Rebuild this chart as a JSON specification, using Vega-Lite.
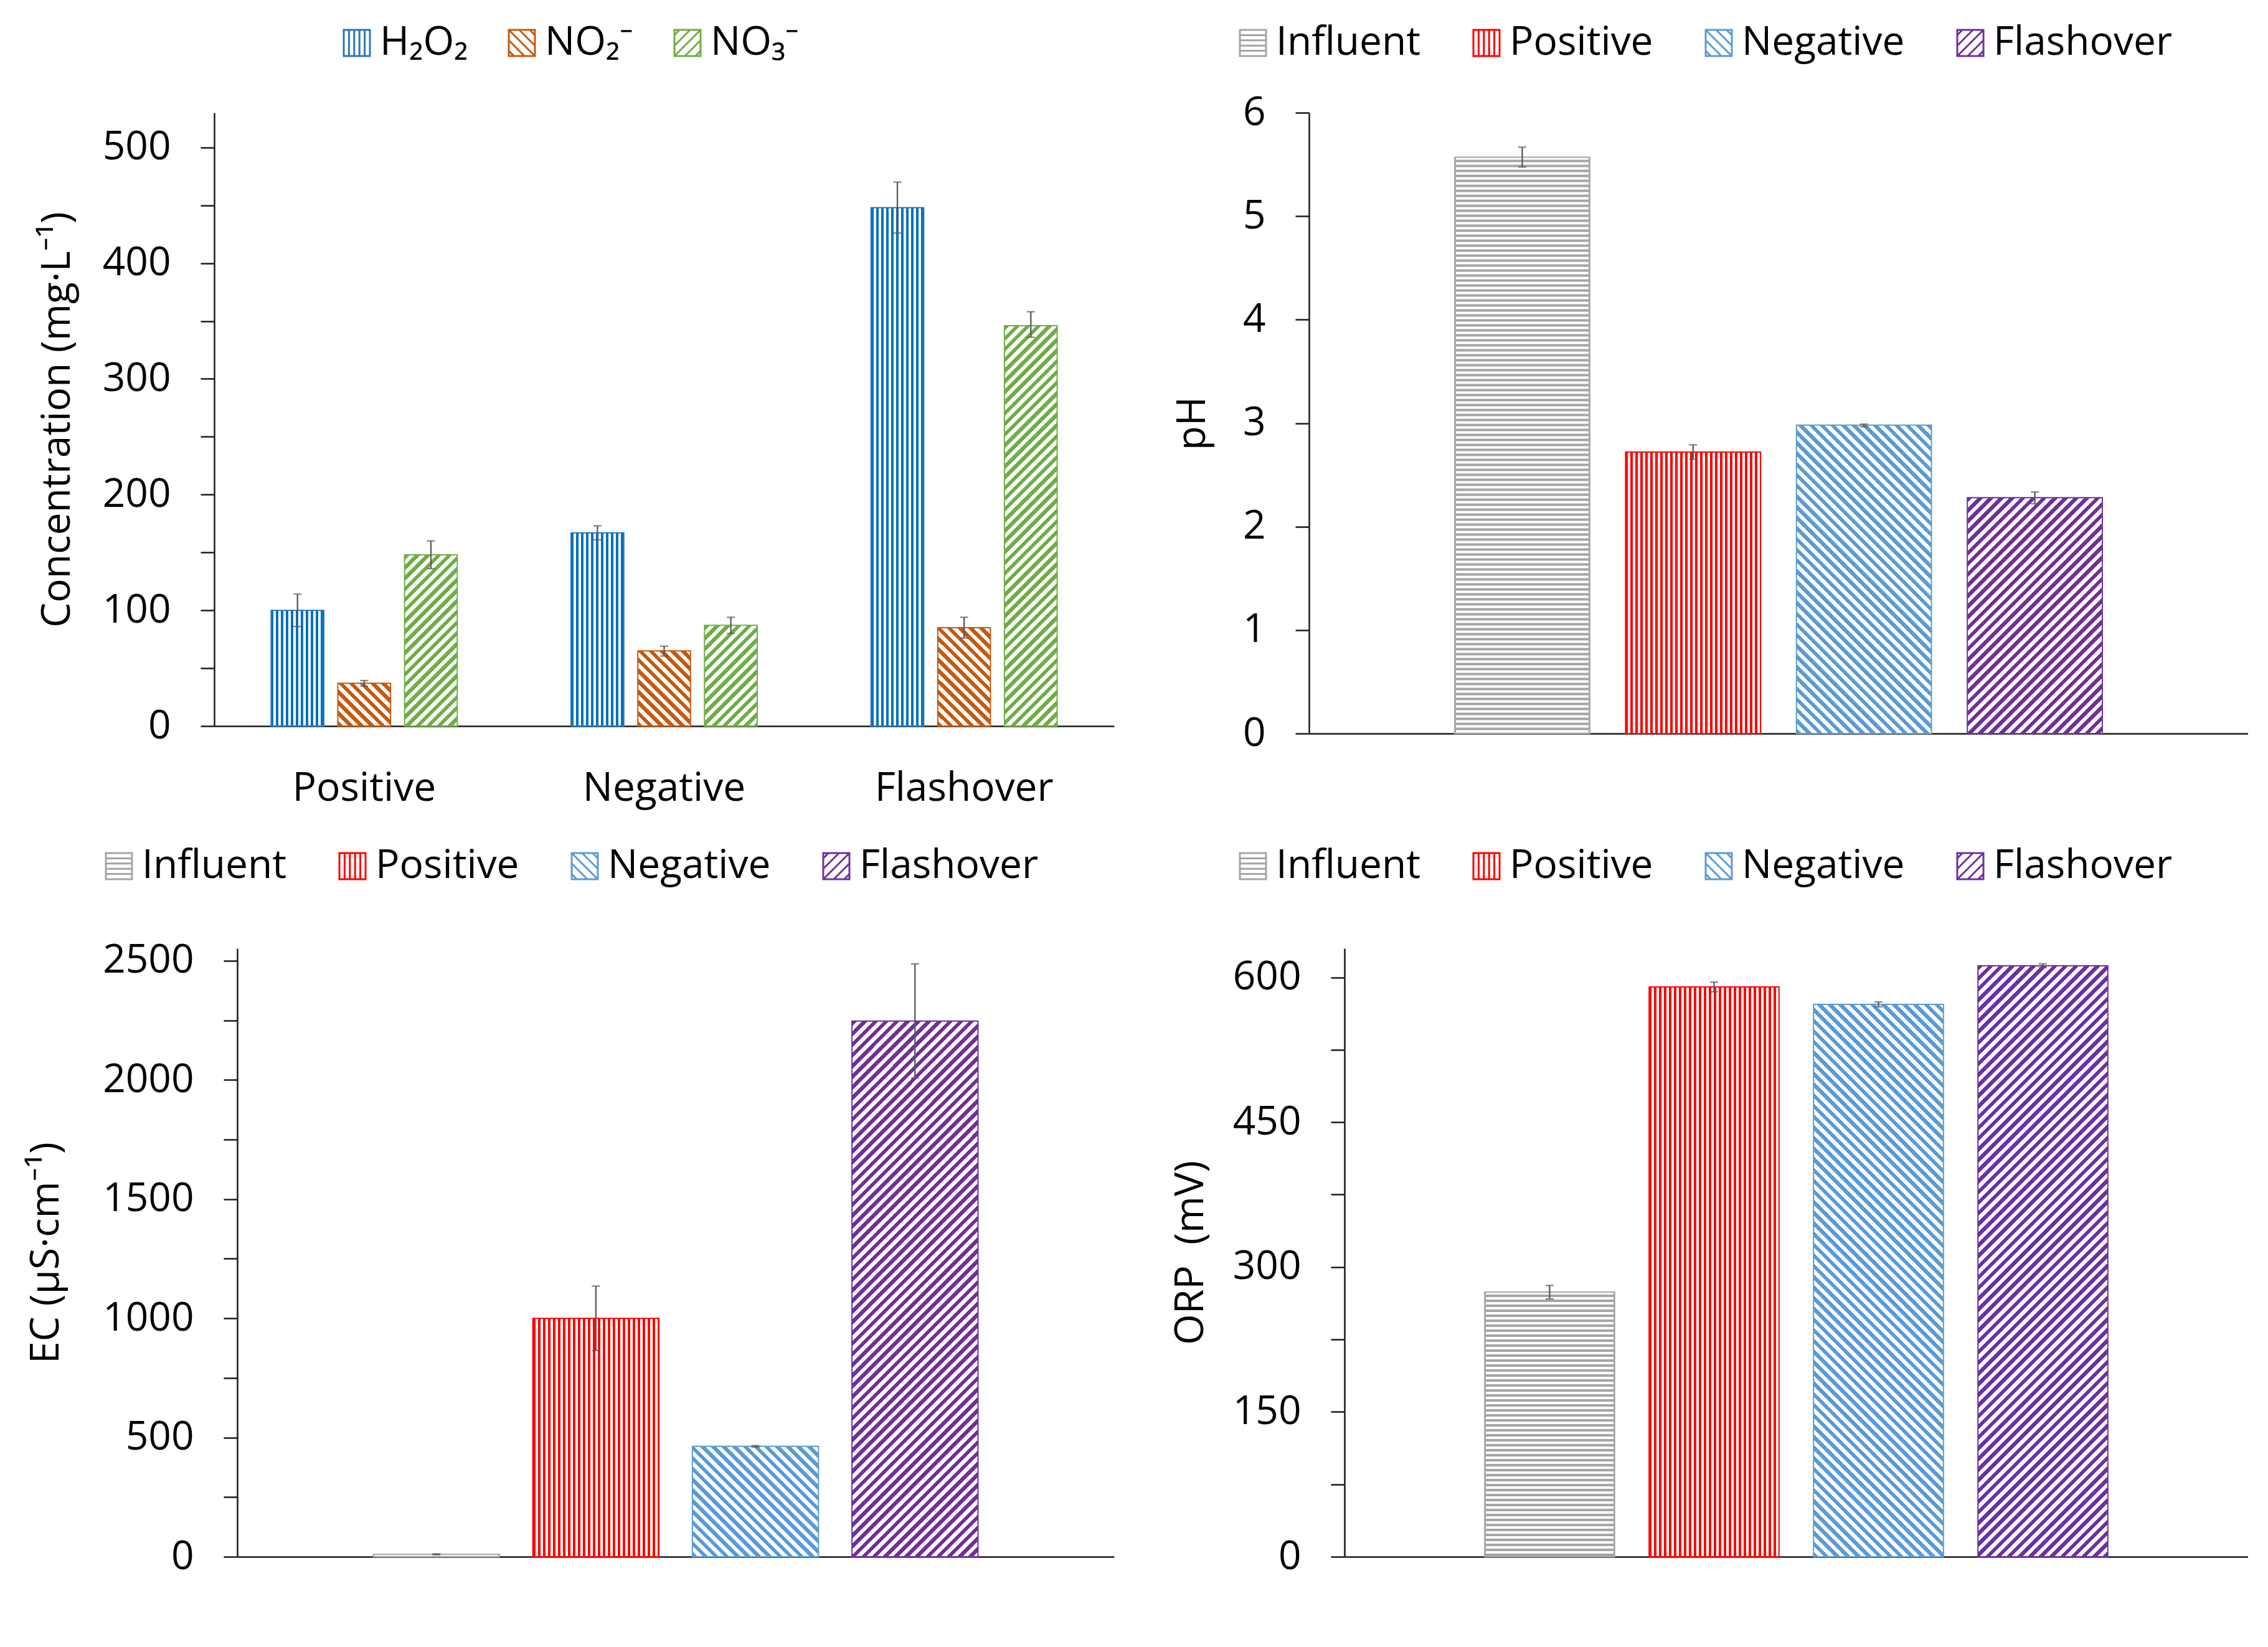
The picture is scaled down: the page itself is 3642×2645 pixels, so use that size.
{
"$schema": "https://vega.github.io/schema/vega-lite/v6.json",
"background": "white",
"padding": {"left": 42, "top": 37, "right": 0, "bottom": 0},
"params": [{"name": "S", "value": [
{"offset":0,"color":"transparent"},
{"offset":0.00714,"color":"transparent"},{"offset":0.00714,"color":"#fff"},
{"offset":0.01429,"color":"#fff"},{"offset":0.01429,"color":"transparent"},
{"offset":0.02143,"color":"transparent"},{"offset":0.02143,"color":"#fff"},
{"offset":0.02857,"color":"#fff"},{"offset":0.02857,"color":"transparent"},
{"offset":0.03571,"color":"transparent"},{"offset":0.03571,"color":"#fff"},
{"offset":0.04286,"color":"#fff"},{"offset":0.04286,"color":"transparent"},
{"offset":0.05,"color":"transparent"},{"offset":0.05,"color":"#fff"},
{"offset":0.05714,"color":"#fff"},{"offset":0.05714,"color":"transparent"},
{"offset":0.06429,"color":"transparent"},{"offset":0.06429,"color":"#fff"},
{"offset":0.07143,"color":"#fff"},{"offset":0.07143,"color":"transparent"},
{"offset":0.07857,"color":"transparent"},{"offset":0.07857,"color":"#fff"},
{"offset":0.08571,"color":"#fff"},{"offset":0.08571,"color":"transparent"},
{"offset":0.09286,"color":"transparent"},{"offset":0.09286,"color":"#fff"},
{"offset":0.1,"color":"#fff"},{"offset":0.1,"color":"transparent"},
{"offset":0.10714,"color":"transparent"},{"offset":0.10714,"color":"#fff"},
{"offset":0.11429,"color":"#fff"},{"offset":0.11429,"color":"transparent"},
{"offset":0.12143,"color":"transparent"},{"offset":0.12143,"color":"#fff"},
{"offset":0.12857,"color":"#fff"},{"offset":0.12857,"color":"transparent"},
{"offset":0.13571,"color":"transparent"},{"offset":0.13571,"color":"#fff"},
{"offset":0.14286,"color":"#fff"},{"offset":0.14286,"color":"transparent"},
{"offset":0.15,"color":"transparent"},{"offset":0.15,"color":"#fff"},
{"offset":0.15714,"color":"#fff"},{"offset":0.15714,"color":"transparent"},
{"offset":0.16429,"color":"transparent"},{"offset":0.16429,"color":"#fff"},
{"offset":0.17143,"color":"#fff"},{"offset":0.17143,"color":"transparent"},
{"offset":0.17857,"color":"transparent"},{"offset":0.17857,"color":"#fff"},
{"offset":0.18571,"color":"#fff"},{"offset":0.18571,"color":"transparent"},
{"offset":0.19286,"color":"transparent"},{"offset":0.19286,"color":"#fff"},
{"offset":0.2,"color":"#fff"},{"offset":0.2,"color":"transparent"},
{"offset":0.20714,"color":"transparent"},{"offset":0.20714,"color":"#fff"},
{"offset":0.21429,"color":"#fff"},{"offset":0.21429,"color":"transparent"},
{"offset":0.22143,"color":"transparent"},{"offset":0.22143,"color":"#fff"},
{"offset":0.22857,"color":"#fff"},{"offset":0.22857,"color":"transparent"},
{"offset":0.23571,"color":"transparent"},{"offset":0.23571,"color":"#fff"},
{"offset":0.24286,"color":"#fff"},{"offset":0.24286,"color":"transparent"},
{"offset":0.25,"color":"transparent"},{"offset":0.25,"color":"#fff"},
{"offset":0.25714,"color":"#fff"},{"offset":0.25714,"color":"transparent"},
{"offset":0.26429,"color":"transparent"},{"offset":0.26429,"color":"#fff"},
{"offset":0.27143,"color":"#fff"},{"offset":0.27143,"color":"transparent"},
{"offset":0.27857,"color":"transparent"},{"offset":0.27857,"color":"#fff"},
{"offset":0.28571,"color":"#fff"},{"offset":0.28571,"color":"transparent"},
{"offset":0.29286,"color":"transparent"},{"offset":0.29286,"color":"#fff"},
{"offset":0.3,"color":"#fff"},{"offset":0.3,"color":"transparent"},
{"offset":0.30714,"color":"transparent"},{"offset":0.30714,"color":"#fff"},
{"offset":0.31429,"color":"#fff"},{"offset":0.31429,"color":"transparent"},
{"offset":0.32143,"color":"transparent"},{"offset":0.32143,"color":"#fff"},
{"offset":0.32857,"color":"#fff"},{"offset":0.32857,"color":"transparent"},
{"offset":0.33571,"color":"transparent"},{"offset":0.33571,"color":"#fff"},
{"offset":0.34286,"color":"#fff"},{"offset":0.34286,"color":"transparent"},
{"offset":0.35,"color":"transparent"},{"offset":0.35,"color":"#fff"},
{"offset":0.35714,"color":"#fff"},{"offset":0.35714,"color":"transparent"},
{"offset":0.36429,"color":"transparent"},{"offset":0.36429,"color":"#fff"},
{"offset":0.37143,"color":"#fff"},{"offset":0.37143,"color":"transparent"},
{"offset":0.37857,"color":"transparent"},{"offset":0.37857,"color":"#fff"},
{"offset":0.38571,"color":"#fff"},{"offset":0.38571,"color":"transparent"},
{"offset":0.39286,"color":"transparent"},{"offset":0.39286,"color":"#fff"},
{"offset":0.4,"color":"#fff"},{"offset":0.4,"color":"transparent"},
{"offset":0.40714,"color":"transparent"},{"offset":0.40714,"color":"#fff"},
{"offset":0.41429,"color":"#fff"},{"offset":0.41429,"color":"transparent"},
{"offset":0.42143,"color":"transparent"},{"offset":0.42143,"color":"#fff"},
{"offset":0.42857,"color":"#fff"},{"offset":0.42857,"color":"transparent"},
{"offset":0.43571,"color":"transparent"},{"offset":0.43571,"color":"#fff"},
{"offset":0.44286,"color":"#fff"},{"offset":0.44286,"color":"transparent"},
{"offset":0.45,"color":"transparent"},{"offset":0.45,"color":"#fff"},
{"offset":0.45714,"color":"#fff"},{"offset":0.45714,"color":"transparent"},
{"offset":0.46429,"color":"transparent"},{"offset":0.46429,"color":"#fff"},
{"offset":0.47143,"color":"#fff"},{"offset":0.47143,"color":"transparent"},
{"offset":0.47857,"color":"transparent"},{"offset":0.47857,"color":"#fff"},
{"offset":0.48571,"color":"#fff"},{"offset":0.48571,"color":"transparent"},
{"offset":0.49286,"color":"transparent"},{"offset":0.49286,"color":"#fff"},
{"offset":0.5,"color":"#fff"},{"offset":0.5,"color":"transparent"},
{"offset":0.50714,"color":"transparent"},{"offset":0.50714,"color":"#fff"},
{"offset":0.51429,"color":"#fff"},{"offset":0.51429,"color":"transparent"},
{"offset":0.52143,"color":"transparent"},{"offset":0.52143,"color":"#fff"},
{"offset":0.52857,"color":"#fff"},{"offset":0.52857,"color":"transparent"},
{"offset":0.53571,"color":"transparent"},{"offset":0.53571,"color":"#fff"},
{"offset":0.54286,"color":"#fff"},{"offset":0.54286,"color":"transparent"},
{"offset":0.55,"color":"transparent"},{"offset":0.55,"color":"#fff"},
{"offset":0.55714,"color":"#fff"},{"offset":0.55714,"color":"transparent"},
{"offset":0.56429,"color":"transparent"},{"offset":0.56429,"color":"#fff"},
{"offset":0.57143,"color":"#fff"},{"offset":0.57143,"color":"transparent"},
{"offset":0.57857,"color":"transparent"},{"offset":0.57857,"color":"#fff"},
{"offset":0.58571,"color":"#fff"},{"offset":0.58571,"color":"transparent"},
{"offset":0.59286,"color":"transparent"},{"offset":0.59286,"color":"#fff"},
{"offset":0.6,"color":"#fff"},{"offset":0.6,"color":"transparent"},
{"offset":0.60714,"color":"transparent"},{"offset":0.60714,"color":"#fff"},
{"offset":0.61429,"color":"#fff"},{"offset":0.61429,"color":"transparent"},
{"offset":0.62143,"color":"transparent"},{"offset":0.62143,"color":"#fff"},
{"offset":0.62857,"color":"#fff"},{"offset":0.62857,"color":"transparent"},
{"offset":0.63571,"color":"transparent"},{"offset":0.63571,"color":"#fff"},
{"offset":0.64286,"color":"#fff"},{"offset":0.64286,"color":"transparent"},
{"offset":0.65,"color":"transparent"},{"offset":0.65,"color":"#fff"},
{"offset":0.65714,"color":"#fff"},{"offset":0.65714,"color":"transparent"},
{"offset":0.66429,"color":"transparent"},{"offset":0.66429,"color":"#fff"},
{"offset":0.67143,"color":"#fff"},{"offset":0.67143,"color":"transparent"},
{"offset":0.67857,"color":"transparent"},{"offset":0.67857,"color":"#fff"},
{"offset":0.68571,"color":"#fff"},{"offset":0.68571,"color":"transparent"},
{"offset":0.69286,"color":"transparent"},{"offset":0.69286,"color":"#fff"},
{"offset":0.7,"color":"#fff"},{"offset":0.7,"color":"transparent"},
{"offset":0.70714,"color":"transparent"},{"offset":0.70714,"color":"#fff"},
{"offset":0.71429,"color":"#fff"},{"offset":0.71429,"color":"transparent"},
{"offset":0.72143,"color":"transparent"},{"offset":0.72143,"color":"#fff"},
{"offset":0.72857,"color":"#fff"},{"offset":0.72857,"color":"transparent"},
{"offset":0.73571,"color":"transparent"},{"offset":0.73571,"color":"#fff"},
{"offset":0.74286,"color":"#fff"},{"offset":0.74286,"color":"transparent"},
{"offset":0.75,"color":"transparent"},{"offset":0.75,"color":"#fff"},
{"offset":0.75714,"color":"#fff"},{"offset":0.75714,"color":"transparent"},
{"offset":0.76429,"color":"transparent"},{"offset":0.76429,"color":"#fff"},
{"offset":0.77143,"color":"#fff"},{"offset":0.77143,"color":"transparent"},
{"offset":0.77857,"color":"transparent"},{"offset":0.77857,"color":"#fff"},
{"offset":0.78571,"color":"#fff"},{"offset":0.78571,"color":"transparent"},
{"offset":0.79286,"color":"transparent"},{"offset":0.79286,"color":"#fff"},
{"offset":0.8,"color":"#fff"},{"offset":0.8,"color":"transparent"},
{"offset":0.80714,"color":"transparent"},{"offset":0.80714,"color":"#fff"},
{"offset":0.81429,"color":"#fff"},{"offset":0.81429,"color":"transparent"},
{"offset":0.82143,"color":"transparent"},{"offset":0.82143,"color":"#fff"},
{"offset":0.82857,"color":"#fff"},{"offset":0.82857,"color":"transparent"},
{"offset":0.83571,"color":"transparent"},{"offset":0.83571,"color":"#fff"},
{"offset":0.84286,"color":"#fff"},{"offset":0.84286,"color":"transparent"},
{"offset":0.85,"color":"transparent"},{"offset":0.85,"color":"#fff"},
{"offset":0.85714,"color":"#fff"},{"offset":0.85714,"color":"transparent"},
{"offset":0.86429,"color":"transparent"},{"offset":0.86429,"color":"#fff"},
{"offset":0.87143,"color":"#fff"},{"offset":0.87143,"color":"transparent"},
{"offset":0.87857,"color":"transparent"},{"offset":0.87857,"color":"#fff"},
{"offset":0.88571,"color":"#fff"},{"offset":0.88571,"color":"transparent"},
{"offset":0.89286,"color":"transparent"},{"offset":0.89286,"color":"#fff"},
{"offset":0.9,"color":"#fff"},{"offset":0.9,"color":"transparent"},
{"offset":0.90714,"color":"transparent"},{"offset":0.90714,"color":"#fff"},
{"offset":0.91429,"color":"#fff"},{"offset":0.91429,"color":"transparent"},
{"offset":0.92143,"color":"transparent"},{"offset":0.92143,"color":"#fff"},
{"offset":0.92857,"color":"#fff"},{"offset":0.92857,"color":"transparent"},
{"offset":0.93571,"color":"transparent"},{"offset":0.93571,"color":"#fff"},
{"offset":0.94286,"color":"#fff"},{"offset":0.94286,"color":"transparent"},
{"offset":0.95,"color":"transparent"},{"offset":0.95,"color":"#fff"},
{"offset":0.95714,"color":"#fff"},{"offset":0.95714,"color":"transparent"},
{"offset":0.96429,"color":"transparent"},{"offset":0.96429,"color":"#fff"},
{"offset":0.97143,"color":"#fff"},{"offset":0.97143,"color":"transparent"},
{"offset":0.97857,"color":"transparent"},{"offset":0.97857,"color":"#fff"},
{"offset":0.98571,"color":"#fff"},{"offset":0.98571,"color":"transparent"},
{"offset":0.99286,"color":"transparent"},{"offset":0.99286,"color":"#fff"},
{"offset":1,"color":"#fff"}
]}],
"config": {
  "font": "Open Sans",
  "view": {"stroke": null},
  "axis": {"labelFont": "Open Sans", "labelFontSize": 64, "labelColor": "#000", "labelLimit": 0, "titleFont": "Open Sans", "titleFontSize": 64, "titleFontWeight": "normal", "titleColor": "#000", "domainColor": "#1a1a1a", "domainWidth": 2.5, "tickColor": "#1a1a1a", "tickWidth": 2.5, "grid": false},
  "legend": {"labelFont": "Open Sans", "labelFontSize": 64, "labelColor": "#000", "labelLimit": 0, "symbolSize": 1764, "labelOffset": 5, "columnPadding": 73, "padding": 0, "symbolStrokeWidth": 3, "symbolOpacity": 1}
},
"resolve": {"scale": {"stroke": "independent", "shape": "independent"}, "legend": {"stroke": "independent", "shape": "independent"}},
"columns": 2,
"spacing": {"row": 345, "column": 313},
"bounds": "flush",
"concat": [
  {
    "width": 1445, "height": 985,
    "data": {"values": [
      {"cat":"Positive","series":"H₂O₂","value":100,"lo":86,"hi":114},
      {"cat":"Positive","series":"NO₂⁻","value":37,"lo":34.5,"hi":39.3},
      {"cat":"Positive","series":"NO₃⁻","value":148,"lo":136,"hi":160},
      {"cat":"Negative","series":"H₂O₂","value":167,"lo":161,"hi":173},
      {"cat":"Negative","series":"NO₂⁻","value":65,"lo":60.5,"hi":69},
      {"cat":"Negative","series":"NO₃⁻","value":87,"lo":80,"hi":94},
      {"cat":"Flashover","series":"H₂O₂","value":448,"lo":426,"hi":470},
      {"cat":"Flashover","series":"NO₂⁻","value":85,"lo":76,"hi":94},
      {"cat":"Flashover","series":"NO₃⁻","value":346,"lo":336,"hi":358}
    ]},
    "encoding": {
      "x": {"field": "cat", "type": "nominal", "sort": ["Positive","Negative","Flashover"], "scale": {"paddingInner": 0, "paddingOuter": 0}, "axis": {"title": null, "ticks": false, "tickSize": 0, "labelPadding": 68, "labelAngle": 0}},
      "xOffset": {"field": "series", "type": "nominal", "sort": ["H₂O₂","NO₂⁻","NO₃⁻"], "scale": {"paddingInner": 0.21, "paddingOuter": 0.853}}
    },
    "layer": [
      {"mark": {"type": "bar", "fill": {"expr": "datum.series=='H₂O₂' ? '#0070C0' : datum.series=='NO₂⁻' ? '#C55A11' : '#70AD47'"}},
       "encoding": {
         "y": {"field": "value", "type": "quantitative", "title": "Concentration (mg·L⁻¹)", "scale": {"domain": [0, 530], "nice": false},
               "axis": {"values": [0,50,100,150,200,250,300,350,400,450,500], "labelExpr": "datum.value % 100 == 0 ? datum.label : ''", "format": "d", "tickSize": 22, "labelPadding": 48, "titlePadding": 40}}
       }},
      {"mark": {"type": "bar", "strokeWidth": 2,
                "fill": {"expr": "datum.series=='H₂O₂' ? {gradient:'linear',x1:0,y1:0,x2:6.619,y2:0,stops:S} : datum.series=='NO₂⁻' ? {gradient:'linear',x1:0,y1:1,x2:101520/(7157+pow(1.8585*datum.value,2)),y2:1-1200*1.8585*datum.value/(7157+pow(1.8585*datum.value,2)),stops:S} : {gradient:'linear',x1:0,y1:0,x2:101520/(7157+pow(1.8585*datum.value,2)),y2:1200*1.8585*datum.value/(7157+pow(1.8585*datum.value,2)),stops:S}"}},
       "encoding": {
         "y": {"field": "value", "type": "quantitative", "title": "Concentration (mg·L⁻¹)"},
         "stroke": {"field": "series", "type": "nominal", "scale": {"domain": ["H₂O₂","NO₂⁻","NO₃⁻"], "range": ["#2E75B6","#C55A11","#70AD47"]}}
       }},
      {"mark": {"type": "point", "filled": false, "opacity": 0, "size": 1764, "strokeWidth": 3},
       "encoding": {
         "y": {"field": "value", "type": "quantitative", "title": "Concentration (mg·L⁻¹)"},
         "stroke": {"field": "series", "type": "nominal", "scale": {"domain": ["H₂O₂","NO₂⁻","NO₃⁻"], "range": ["#2E75B6","#C55A11","#70AD47"]},
                    "legend": {"title": null, "orient": "none", "direction": "horizontal", "legendX": 197, "legendY": -144, "symbolOpacity": 1, "columnPadding": 54}},
         "shape": {"field": "series", "type": "nominal", "scale": {"domain": ["H₂O₂","NO₂⁻","NO₃⁻"], "range": [
             "M-1,-1H1V1H-1Z M-0.6,-1V1 M-0.2,-1V1 M0.2,-1V1 M0.6,-1V1",
             "M-1,-1H1V1H-1Z M-1,0.6L-0.6,1 M-1,-0.2L0.2,1 M-1,-1L1,1 M-0.2,-1L1,0.2 M0.6,-1L1,-0.6",
             "M-1,-1H1V1H-1Z M-1,-0.6L-0.6,-1 M-1,0.2L0.2,-1 M-1,1L1,-1 M-0.2,1L1,-0.2 M0.6,1L1,0.6"]},
                    "legend": {"title": null, "orient": "none", "direction": "horizontal", "legendX": 197, "legendY": -144, "symbolOpacity": 1, "columnPadding": 54}}
       }},
      {"mark": {"type": "rule", "color": "#595959", "strokeWidth": 2.3},
       "encoding": {"y": {"field": "lo", "type": "quantitative", "title": "Concentration (mg·L⁻¹)"}, "y2": {"field": "hi"}}},
      {"mark": {"type": "tick", "color": "#595959", "size": 13, "thickness": 2.3},
       "encoding": {"y": {"field": "lo", "type": "quantitative", "title": "Concentration (mg·L⁻¹)"}}},
      {"mark": {"type": "tick", "color": "#595959", "size": 13, "thickness": 2.3},
       "encoding": {"y": {"field": "hi", "type": "quantitative", "title": "Concentration (mg·L⁻¹)"}}}
    ]
  },
  {
    "width": 1508, "height": 997,
    "data": {"values": [
      {"series":"Influent","value":5.57,"lo":5.475,"hi":5.667},
      {"series":"Positive","value":2.72,"lo":2.65,"hi":2.79},
      {"series":"Negative","value":2.98,"lo":2.965,"hi":2.99},
      {"series":"Flashover","value":2.28,"lo":2.22,"hi":2.335}
    ]},
    "encoding": {
      "x": {"field": "series", "type": "nominal", "sort": ["Influent","Positive","Negative","Flashover"], "scale": {"paddingInner": 0.21, "paddingOuter": 0.853}, "axis": {"title": null, "labels": false, "ticks": false, "tickSize": 0}}
    },
    "layer": [
      {"mark": {"type": "bar", "fill": {"expr": "datum.series=='Influent' ? '#A5A5A5' : datum.series=='Positive' ? '#FF0000' : datum.series=='Negative' ? '#5B9BD5' : '#7030A0'"}},
       "encoding": {
         "y": {"field": "value", "type": "quantitative", "title": "pH", "scale": {"domain": [0, 6], "nice": false},
               "axis": {"values": [0,0.5,1,1.5,2,2.5,3,3.5,4,4.5,5,5.5,6], "labelExpr": "datum.value % 1 == 0 ? datum.label : ''", "format": "d", "tickSize": 22, "labelPadding": 48, "titlePadding": 48}}
       }},
      {"transform": [{"filter": "datum.series=='Influent'"}],
       "mark": {"type": "rule", "color": "white", "strokeWidth": 213, "strokeDash": [4, 4], "strokeCap": "butt"},
       "encoding": {"y": {"field": "value", "type": "quantitative", "title": "pH"}, "y2": {"datum": 0}}},
      {"mark": {"type": "bar", "strokeWidth": 2,
                "fill": {"expr": "datum.series=='Positive' ? {gradient:'linear',x1:0,y1:0,x2:2.583,y2:0,stops:S} : datum.series=='Negative' ? {gradient:'linear',x1:0,y1:1,x2:260160/(47002+pow(166.17*datum.value,2)),y2:1-1200*166.17*datum.value/(47002+pow(166.17*datum.value,2)),stops:S} : datum.series=='Flashover' ? {gradient:'linear',x1:0,y1:0,x2:260160/(47002+pow(166.17*datum.value,2)),y2:1200*166.17*datum.value/(47002+pow(166.17*datum.value,2)),stops:S} : 'transparent'"}},
       "encoding": {
         "y": {"field": "value", "type": "quantitative", "title": "pH"},
         "stroke": {"field": "series", "type": "nominal", "scale": {"domain": ["Influent","Positive","Negative","Flashover"], "range": ["#A5A5A5","#FF0000","#5B9BD5","#7030A0"]}}
       }},
      {"mark": {"type": "point", "filled": false, "opacity": 0, "size": 1764, "strokeWidth": 3},
       "encoding": {
         "y": {"field": "value", "type": "quantitative", "title": "pH"},
         "stroke": {"field": "series", "type": "nominal", "scale": {"domain": ["Influent","Positive","Negative","Flashover"], "range": ["#A5A5A5","#FF0000","#5B9BD5","#7030A0"]},
                    "legend": {"title": null, "orient": "none", "direction": "horizontal", "legendX": -122, "legendY": -144, "symbolOpacity": 1}},
         "shape": {"field": "series", "type": "nominal", "scale": {"domain": ["Influent","Positive","Negative","Flashover"], "range": [
             "M-1,-1H1V1H-1Z M-1,-0.6H1 M-1,-0.2H1 M-1,0.2H1 M-1,0.6H1",
             "M-1,-1H1V1H-1Z M-0.6,-1V1 M-0.2,-1V1 M0.2,-1V1 M0.6,-1V1",
             "M-1,-1H1V1H-1Z M-1,0.6L-0.6,1 M-1,-0.2L0.2,1 M-1,-1L1,1 M-0.2,-1L1,0.2 M0.6,-1L1,-0.6",
             "M-1,-1H1V1H-1Z M-1,-0.6L-0.6,-1 M-1,0.2L0.2,-1 M-1,1L1,-1 M-0.2,1L1,-0.2 M0.6,1L1,0.6"]},
                    "legend": {"title": null, "orient": "none", "direction": "horizontal", "legendX": -122, "legendY": -144, "symbolOpacity": 1}}
       }},
      {"mark": {"type": "rule", "color": "#595959", "strokeWidth": 2.3},
       "encoding": {"y": {"field": "lo", "type": "quantitative", "title": "pH"}, "y2": {"field": "hi"}}},
      {"mark": {"type": "tick", "color": "#595959", "size": 13, "thickness": 2.3},
       "encoding": {"y": {"field": "lo", "type": "quantitative", "title": "pH"}}},
      {"mark": {"type": "tick", "color": "#595959", "size": 13, "thickness": 2.3},
       "encoding": {"y": {"field": "hi", "type": "quantitative", "title": "pH"}}}
    ]
  },
  {
    "width": 1445, "height": 977,
    "data": {"values": [
      {"series":"Influent","value":10,"lo":8,"hi":12},
      {"series":"Positive","value":1000,"lo":865,"hi":1135},
      {"series":"Negative","value":463,"lo":460,"hi":466},
      {"series":"Flashover","value":2247,"lo":2008,"hi":2487}
    ]},
    "encoding": {
      "x": {"field": "series", "type": "nominal", "sort": ["Influent","Positive","Negative","Flashover"], "scale": {"range": [37, 1445], "paddingInner": 0.21, "paddingOuter": 0.853}, "axis": {"title": null, "labels": false, "ticks": false, "tickSize": 0}}
    },
    "layer": [
      {"mark": {"type": "bar", "fill": {"expr": "datum.series=='Influent' ? '#A5A5A5' : datum.series=='Positive' ? '#FF0000' : datum.series=='Negative' ? '#5B9BD5' : '#7030A0'"}},
       "encoding": {
         "y": {"field": "value", "type": "quantitative", "title": "EC (μS·cm⁻¹)", "scale": {"domain": [0, 2552], "nice": false},
               "axis": {"offset": -37, "values": [0,250,500,750,1000,1250,1500,1750,2000,2250,2500], "labelExpr": "datum.value % 500 == 0 ? datum.label : ''", "format": "d", "tickSize": 22, "labelPadding": 48, "titlePadding": 75}}
       }},
      {"transform": [{"filter": "datum.series=='Influent'"}],
       "mark": {"type": "rule", "color": "white", "strokeWidth": 199, "strokeDash": [4, 4], "strokeCap": "butt"},
       "encoding": {"y": {"field": "value", "type": "quantitative", "title": "EC (μS·cm⁻¹)"}, "y2": {"datum": 0}}},
      {"mark": {"type": "bar", "strokeWidth": 2,
                "fill": {"expr": "datum.series=='Positive' ? {gradient:'linear',x1:0,y1:0,x2:2.767,y2:0,stops:S} : datum.series=='Negative' ? {gradient:'linear',x1:0,y1:1,x2:242880/(40966+pow(0.38281*datum.value,2)),y2:1-1200*0.38281*datum.value/(40966+pow(0.38281*datum.value,2)),stops:S} : datum.series=='Flashover' ? {gradient:'linear',x1:0,y1:0,x2:242880/(40966+pow(0.38281*datum.value,2)),y2:1200*0.38281*datum.value/(40966+pow(0.38281*datum.value,2)),stops:S} : 'transparent'"}},
       "encoding": {
         "y": {"field": "value", "type": "quantitative", "title": "EC (μS·cm⁻¹)"},
         "stroke": {"field": "series", "type": "nominal", "scale": {"domain": ["Influent","Positive","Negative","Flashover"], "range": ["#A5A5A5","#FF0000","#5B9BD5","#7030A0"]}}
       }},
      {"mark": {"type": "point", "filled": false, "opacity": 0, "size": 1764, "strokeWidth": 3},
       "encoding": {
         "y": {"field": "value", "type": "quantitative", "title": "EC (μS·cm⁻¹)"},
         "stroke": {"field": "series", "type": "nominal", "scale": {"domain": ["Influent","Positive","Negative","Flashover"], "range": ["#A5A5A5","#FF0000","#5B9BD5","#7030A0"]},
                    "legend": {"title": null, "orient": "none", "direction": "horizontal", "legendX": -185, "legendY": -164, "symbolOpacity": 1}},
         "shape": {"field": "series", "type": "nominal", "scale": {"domain": ["Influent","Positive","Negative","Flashover"], "range": [
             "M-1,-1H1V1H-1Z M-1,-0.6H1 M-1,-0.2H1 M-1,0.2H1 M-1,0.6H1",
             "M-1,-1H1V1H-1Z M-0.6,-1V1 M-0.2,-1V1 M0.2,-1V1 M0.6,-1V1",
             "M-1,-1H1V1H-1Z M-1,0.6L-0.6,1 M-1,-0.2L0.2,1 M-1,-1L1,1 M-0.2,-1L1,0.2 M0.6,-1L1,-0.6",
             "M-1,-1H1V1H-1Z M-1,-0.6L-0.6,-1 M-1,0.2L0.2,-1 M-1,1L1,-1 M-0.2,1L1,-0.2 M0.6,1L1,0.6"]},
                    "legend": {"title": null, "orient": "none", "direction": "horizontal", "legendX": -185, "legendY": -164, "symbolOpacity": 1}}
       }},
      {"mark": {"type": "rule", "color": "#595959", "strokeWidth": 2.3},
       "encoding": {"y": {"field": "lo", "type": "quantitative", "title": "EC (μS·cm⁻¹)"}, "y2": {"field": "hi"}}},
      {"mark": {"type": "tick", "color": "#595959", "size": 13, "thickness": 2.3},
       "encoding": {"y": {"field": "lo", "type": "quantitative", "title": "EC (μS·cm⁻¹)"}}},
      {"mark": {"type": "tick", "color": "#595959", "size": 13, "thickness": 2.3},
       "encoding": {"y": {"field": "hi", "type": "quantitative", "title": "EC (μS·cm⁻¹)"}}}
    ]
  },
  {
    "width": 1508, "height": 977,
    "data": {"values": [
      {"series":"Influent","value":274,"lo":267,"hi":281},
      {"series":"Positive","value":590,"lo":585,"hi":595},
      {"series":"Negative","value":572,"lo":569.5,"hi":574.5},
      {"series":"Flashover","value":612,"lo":610,"hi":614}
    ]},
    "encoding": {
      "x": {"field": "series", "type": "nominal", "sort": ["Influent","Positive","Negative","Flashover"], "scale": {"range": [57, 1508], "paddingInner": 0.21, "paddingOuter": 0.853}, "axis": {"title": null, "labels": false, "ticks": false, "tickSize": 0}}
    },
    "layer": [
      {"mark": {"type": "bar", "fill": {"expr": "datum.series=='Influent' ? '#A5A5A5' : datum.series=='Positive' ? '#FF0000' : datum.series=='Negative' ? '#5B9BD5' : '#7030A0'"}},
       "encoding": {
         "y": {"field": "value", "type": "quantitative", "title": "ORP\u00a0 (mV)", "scale": {"domain": [0, 630], "nice": false},
               "axis": {"offset": -57, "values": [0,75,150,225,300,375,450,525,600], "labelExpr": "datum.value % 150 == 0 ? datum.label : ''", "format": "d", "tickSize": 22, "labelPadding": 48, "titlePadding": 35}}
       }},
      {"transform": [{"filter": "datum.series=='Influent'"}],
       "mark": {"type": "rule", "color": "white", "strokeWidth": 205, "strokeDash": [4, 4], "strokeCap": "butt"},
       "encoding": {"y": {"field": "value", "type": "quantitative", "title": "ORP\u00a0 (mV)"}, "y2": {"datum": 0}}},
      {"mark": {"type": "bar", "strokeWidth": 2,
                "fill": {"expr": "datum.series=='Positive' ? {gradient:'linear',x1:0,y1:0,x2:2.685,y2:0,stops:S} : datum.series=='Negative' ? {gradient:'linear',x1:0,y1:1,x2:250320/(43514+pow(1.55079*datum.value,2)),y2:1-1200*1.55079*datum.value/(43514+pow(1.55079*datum.value,2)),stops:S} : datum.series=='Flashover' ? {gradient:'linear',x1:0,y1:0,x2:250320/(43514+pow(1.55079*datum.value,2)),y2:1200*1.55079*datum.value/(43514+pow(1.55079*datum.value,2)),stops:S} : 'transparent'"}},
       "encoding": {
         "y": {"field": "value", "type": "quantitative", "title": "ORP\u00a0 (mV)"},
         "stroke": {"field": "series", "type": "nominal", "scale": {"domain": ["Influent","Positive","Negative","Flashover"], "range": ["#A5A5A5","#FF0000","#5B9BD5","#7030A0"]}}
       }},
      {"mark": {"type": "point", "filled": false, "opacity": 0, "size": 1764, "strokeWidth": 3},
       "encoding": {
         "y": {"field": "value", "type": "quantitative", "title": "ORP\u00a0 (mV)"},
         "stroke": {"field": "series", "type": "nominal", "scale": {"domain": ["Influent","Positive","Negative","Flashover"], "range": ["#A5A5A5","#FF0000","#5B9BD5","#7030A0"]},
                    "legend": {"title": null, "orient": "none", "direction": "horizontal", "legendX": -122, "legendY": -164, "symbolOpacity": 1}},
         "shape": {"field": "series", "type": "nominal", "scale": {"domain": ["Influent","Positive","Negative","Flashover"], "range": [
             "M-1,-1H1V1H-1Z M-1,-0.6H1 M-1,-0.2H1 M-1,0.2H1 M-1,0.6H1",
             "M-1,-1H1V1H-1Z M-0.6,-1V1 M-0.2,-1V1 M0.2,-1V1 M0.6,-1V1",
             "M-1,-1H1V1H-1Z M-1,0.6L-0.6,1 M-1,-0.2L0.2,1 M-1,-1L1,1 M-0.2,-1L1,0.2 M0.6,-1L1,-0.6",
             "M-1,-1H1V1H-1Z M-1,-0.6L-0.6,-1 M-1,0.2L0.2,-1 M-1,1L1,-1 M-0.2,1L1,-0.2 M0.6,1L1,0.6"]},
                    "legend": {"title": null, "orient": "none", "direction": "horizontal", "legendX": -122, "legendY": -164, "symbolOpacity": 1}}
       }},
      {"mark": {"type": "rule", "color": "#595959", "strokeWidth": 2.3},
       "encoding": {"y": {"field": "lo", "type": "quantitative", "title": "ORP\u00a0 (mV)"}, "y2": {"field": "hi"}}},
      {"mark": {"type": "tick", "color": "#595959", "size": 13, "thickness": 2.3},
       "encoding": {"y": {"field": "lo", "type": "quantitative", "title": "ORP\u00a0 (mV)"}}},
      {"mark": {"type": "tick", "color": "#595959", "size": 13, "thickness": 2.3},
       "encoding": {"y": {"field": "hi", "type": "quantitative", "title": "ORP\u00a0 (mV)"}}}
    ]
  }
]
}
